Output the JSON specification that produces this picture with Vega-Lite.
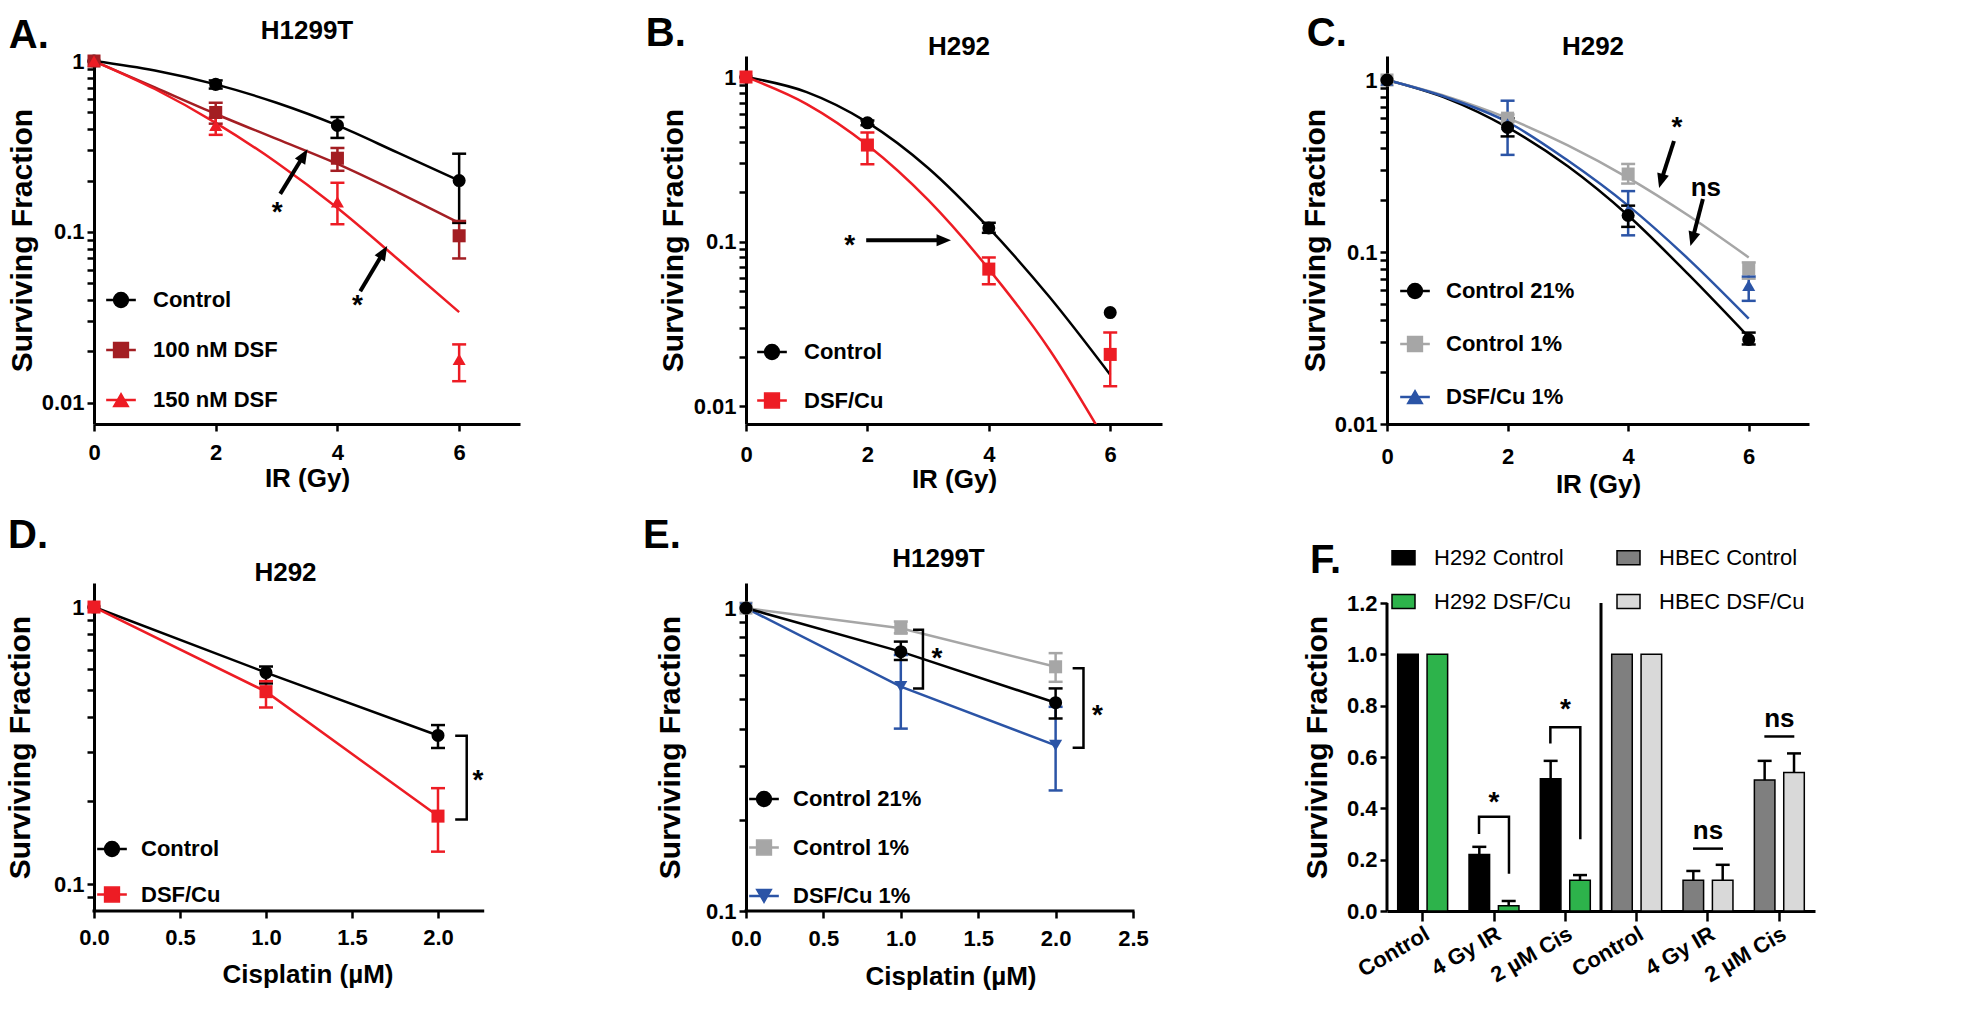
{
"$schema": "https://vega.github.io/schema/vega-lite/v6.json",
"background": "white",
"padding": {"left": 5, "top": 13, "right": 5, "bottom": 5},
"config": {
  "font": "Liberation Sans",
  "view": {"stroke": null},
  "axis": {"domainColor": "black", "domainWidth": 3, "tickColor": "black", "tickWidth": 2.5, "tickSize": 7, "labelColor": "black", "labelFont": "Liberation Sans", "labelFontSize": 22, "labelFontWeight": "bold", "labelPadding": 3, "labelFlush": false, "labelOverlap": false, "titleColor": "black", "titleFont": "Liberation Sans", "titleFontSize": 26, "titleFontWeight": "bold", "grid": false},
  "axisX": {"titleBaseline": "middle"},
  "axisY": {"titleFontSize": 30, "titleBaseline": "middle"},
  "title": {"font": "Liberation Sans", "fontSize": 26, "fontWeight": "bold", "color": "black", "anchor": "middle"}
},
"datasets": {
  "A_fit": [
    {"series":"Control","x":0,"sf":1},{"series":"Control","x":1,"sf":0.88},{"series":"Control","x":2,"sf":0.73},{"series":"Control","x":3,"sf":0.57},{"series":"Control","x":4,"sf":0.42},{"series":"Control","x":5,"sf":0.29},{"series":"Control","x":6,"sf":0.2},
    {"series":"100 nM DSF","x":0,"sf":1},{"series":"100 nM DSF","x":1,"sf":0.7},{"series":"100 nM DSF","x":2,"sf":0.49},{"series":"100 nM DSF","x":3,"sf":0.35},{"series":"100 nM DSF","x":4,"sf":0.25},{"series":"100 nM DSF","x":5,"sf":0.17},{"series":"100 nM DSF","x":6,"sf":0.113},
    {"series":"150 nM DSF","x":0,"sf":1},{"series":"150 nM DSF","x":1,"sf":0.686},{"series":"150 nM DSF","x":2,"sf":0.435},{"series":"150 nM DSF","x":3,"sf":0.255},{"series":"150 nM DSF","x":4,"sf":0.138},{"series":"150 nM DSF","x":5,"sf":0.069},{"series":"150 nM DSF","x":6,"sf":0.034}
  ],
  "A_pts": [
    {"series":"Control","x":0,"sf":1,"lo":1,"hi":1},{"series":"Control","x":2,"sf":0.73,"lo":0.69,"hi":0.77},{"series":"Control","x":4,"sf":0.42,"lo":0.355,"hi":0.47},{"series":"Control","x":6,"sf":0.2,"lo":0.113,"hi":0.287},
    {"series":"100 nM DSF","x":0,"sf":1,"lo":1,"hi":1},{"series":"100 nM DSF","x":2,"sf":0.5,"lo":0.43,"hi":0.57},{"series":"100 nM DSF","x":4,"sf":0.27,"lo":0.228,"hi":0.31},{"series":"100 nM DSF","x":6,"sf":0.095,"lo":0.07,"hi":0.116},
    {"series":"150 nM DSF","x":0,"sf":1,"lo":1,"hi":1},{"series":"150 nM DSF","x":2,"sf":0.42,"lo":0.37,"hi":0.47},{"series":"150 nM DSF","x":4,"sf":0.15,"lo":0.111,"hi":0.194},{"series":"150 nM DSF","x":6,"sf":0.018,"lo":0.0134,"hi":0.022}
  ],
  "A_arrows": [{"x0":3.06,"y0":0.167,"x1":3.44,"y1":0.278},{"x0":4.375,"y0":0.045,"x1":4.75,"y1":0.0754}],
  "A_stars": [{"x":3.01,"y":0.142},{"x":4.33,"y":0.0406}],
  "B_fit": [
    {"series":"Control","x":0,"sf":1},{"series":"Control","x":1,"sf":0.81},{"series":"Control","x":2,"sf":0.53},{"series":"Control","x":3,"sf":0.28},{"series":"Control","x":4,"sf":0.121},{"series":"Control","x":5,"sf":0.046},{"series":"Control","x":6,"sf":0.0155},
    {"series":"DSF/Cu","x":0,"sf":1},{"series":"DSF/Cu","x":1,"sf":0.685},{"series":"DSF/Cu","x":2,"sf":0.386},{"series":"DSF/Cu","x":3,"sf":0.179},{"series":"DSF/Cu","x":4,"sf":0.068},{"series":"DSF/Cu","x":5,"sf":0.022},{"series":"DSF/Cu","x":6,"sf":0.0055}
  ],
  "B_pts": [
    {"series":"Control","x":0,"sf":1,"lo":1,"hi":1},{"series":"Control","x":2,"sf":0.527,"lo":0.51,"hi":0.545},{"series":"Control","x":4,"sf":0.121,"lo":0.113,"hi":0.13},{"series":"Control","x":6,"sf":0.037,"lo":0.037,"hi":0.037},
    {"series":"DSF/Cu","x":0,"sf":1,"lo":1,"hi":1},{"series":"DSF/Cu","x":2,"sf":0.386,"lo":0.295,"hi":0.46},{"series":"DSF/Cu","x":4,"sf":0.068,"lo":0.055,"hi":0.08},{"series":"DSF/Cu","x":6,"sf":0.0206,"lo":0.0132,"hi":0.028}
  ],
  "B_arrows": [{"x0":1.98,"y0":0.102,"x1":3.245,"y1":0.102}],
  "B_stars": [{"x":1.71,"y":0.104}],
  "C_fit": [
    {"series":"Control 21%","x":0,"sf":1},{"series":"Control 21%","x":1,"sf":0.78},{"series":"Control 21%","x":2,"sf":0.53},{"series":"Control 21%","x":3,"sf":0.315},{"series":"Control 21%","x":4,"sf":0.163},{"series":"Control 21%","x":5,"sf":0.074},{"series":"Control 21%","x":6,"sf":0.032},
    {"series":"Control 1%","x":0,"sf":1},{"series":"Control 1%","x":1,"sf":0.8},{"series":"Control 1%","x":2,"sf":0.6},{"series":"Control 1%","x":3,"sf":0.417},{"series":"Control 1%","x":4,"sf":0.27},{"series":"Control 1%","x":5,"sf":0.163},{"series":"Control 1%","x":6,"sf":0.093},
    {"series":"DSF/Cu 1%","x":0,"sf":1},{"series":"DSF/Cu 1%","x":1,"sf":0.79},{"series":"DSF/Cu 1%","x":2,"sf":0.57},{"series":"DSF/Cu 1%","x":3,"sf":0.34},{"series":"DSF/Cu 1%","x":4,"sf":0.186},{"series":"DSF/Cu 1%","x":5,"sf":0.091},{"series":"DSF/Cu 1%","x":6,"sf":0.041}
  ],
  "C_pts": [
    {"series":"Control 1%","x":0,"sf":1,"lo":1,"hi":1},{"series":"Control 1%","x":2,"sf":0.6,"lo":0.57,"hi":0.63},{"series":"Control 1%","x":4,"sf":0.284,"lo":0.25,"hi":0.325},{"series":"Control 1%","x":6,"sf":0.08,"lo":0.07,"hi":0.087},
    {"series":"DSF/Cu 1%","x":0,"sf":1,"lo":1,"hi":1},{"series":"DSF/Cu 1%","x":2,"sf":0.555,"lo":0.367,"hi":0.758},{"series":"DSF/Cu 1%","x":4,"sf":0.175,"lo":0.125,"hi":0.226},{"series":"DSF/Cu 1%","x":6,"sf":0.064,"lo":0.052,"hi":0.072},
    {"series":"Control 21%","x":0,"sf":1,"lo":1,"hi":1},{"series":"Control 21%","x":2,"sf":0.53,"lo":0.47,"hi":0.6},{"series":"Control 21%","x":4,"sf":0.163,"lo":0.14,"hi":0.186},{"series":"Control 21%","x":6,"sf":0.031,"lo":0.029,"hi":0.034}
  ],
  "C_arrows": [{"x0":4.76,"y0":0.442,"x1":4.55,"y1":0.261},{"x0":5.24,"y0":0.203,"x1":5.07,"y1":0.12}],
  "C_stars": [{"x":4.81,"y":0.578}],
  "C_ns": [{"x":5.29,"y":0.235}],
  "D_pts": [
    {"series":"Control","x":0,"sf":1,"lo":1,"hi":1},{"series":"Control","x":1,"sf":0.58,"lo":0.53,"hi":0.61},{"series":"Control","x":2,"sf":0.344,"lo":0.31,"hi":0.375},
    {"series":"DSF/Cu","x":0,"sf":1,"lo":1,"hi":1},{"series":"DSF/Cu","x":1,"sf":0.495,"lo":0.434,"hi":0.54},{"series":"DSF/Cu","x":2,"sf":0.176,"lo":0.131,"hi":0.222}
  ],
  "D_bracket": [{"b":1,"k":1,"x":2.1,"y":0.343},{"b":1,"k":2,"x":2.167,"y":0.343},{"b":1,"k":3,"x":2.167,"y":0.171},{"b":1,"k":4,"x":2.1,"y":0.171}],
  "D_stars": [{"x":2.233,"y":0.249}],
  "E_pts": [
    {"series":"Control 1%","x":0,"sf":1,"lo":1,"hi":1},{"series":"Control 1%","x":1,"sf":0.858,"lo":0.826,"hi":0.903},{"series":"Control 1%","x":2,"sf":0.64,"lo":0.571,"hi":0.71},
    {"series":"DSF/Cu 1%","x":0,"sf":1,"lo":1,"hi":1},{"series":"DSF/Cu 1%","x":1,"sf":0.55,"lo":0.4,"hi":0.7},{"series":"DSF/Cu 1%","x":2,"sf":0.352,"lo":0.25,"hi":0.472},
    {"series":"Control 21%","x":0,"sf":1,"lo":1,"hi":1},{"series":"Control 21%","x":1,"sf":0.718,"lo":0.674,"hi":0.775},{"series":"Control 21%","x":2,"sf":0.487,"lo":0.432,"hi":0.543}
  ],
  "E_bracket": [
    {"b":1,"k":1,"x":1.079,"y":0.848},{"b":1,"k":2,"x":1.143,"y":0.848},{"b":1,"k":3,"x":1.143,"y":0.543},{"b":1,"k":4,"x":1.079,"y":0.543},
    {"b":2,"k":1,"x":2.11,"y":0.633},{"b":2,"k":2,"x":2.18,"y":0.633},{"b":2,"k":3,"x":2.18,"y":0.346},{"b":2,"k":4,"x":2.11,"y":0.346}
  ],
  "E_stars": [{"x":1.234,"y":0.718},{"x":2.27,"y":0.466}],
  "F_bars": [
    {"cond":"H292|Control","trt":"Control","series":"H292 Control","sf":1.0,"hi":1.0},
    {"cond":"H292|Control","trt":"DSF/Cu","series":"H292 DSF/Cu","sf":1.0,"hi":1.0},
    {"cond":"H292|4 Gy IR","trt":"Control","series":"H292 Control","sf":0.22,"hi":0.25},
    {"cond":"H292|4 Gy IR","trt":"DSF/Cu","series":"H292 DSF/Cu","sf":0.02,"hi":0.039},
    {"cond":"H292|2 µM Cis","trt":"Control","series":"H292 Control","sf":0.515,"hi":0.585},
    {"cond":"H292|2 µM Cis","trt":"DSF/Cu","series":"H292 DSF/Cu","sf":0.12,"hi":0.14},
    {"cond":"HBEC|Control","trt":"Control","series":"HBEC Control","sf":1.0,"hi":1.0},
    {"cond":"HBEC|Control","trt":"DSF/Cu","series":"HBEC DSF/Cu","sf":1.0,"hi":1.0},
    {"cond":"HBEC|4 Gy IR","trt":"Control","series":"HBEC Control","sf":0.12,"hi":0.156},
    {"cond":"HBEC|4 Gy IR","trt":"DSF/Cu","series":"HBEC DSF/Cu","sf":0.12,"hi":0.18},
    {"cond":"HBEC|2 µM Cis","trt":"Control","series":"HBEC Control","sf":0.51,"hi":0.585},
    {"cond":"HBEC|2 µM Cis","trt":"DSF/Cu","series":"HBEC DSF/Cu","sf":0.54,"hi":0.614}
  ],
  "F_brackets": [
    {"b":1,"k":1,"x":1.29,"y":0.3},{"b":1,"k":2,"x":1.29,"y":0.367},{"b":1,"k":3,"x":1.71,"y":0.367},{"b":1,"k":4,"x":1.71,"y":0.145},
    {"b":2,"k":1,"x":2.29,"y":0.653},{"b":2,"k":2,"x":2.29,"y":0.716},{"b":2,"k":3,"x":2.71,"y":0.716},{"b":2,"k":4,"x":2.71,"y":0.28}
  ],
  "F_nslines": [{"x0":4.29,"x1":4.71,"y":0.243},{"x0":5.29,"x1":5.71,"y":0.68}],
  "F_stars": [{"x":1.5,"y":0.45},{"x":2.5,"y":0.81}],
  "F_ns": [{"x":4.5,"y":0.31},{"x":5.5,"y":0.75}],
  "F_vlines": [{"x":0,"y0":0,"y1":1.2},{"x":3,"y0":0,"y1":1.2}]
},
"columns": 3,
"align": "none",
"bounds": "flush",
"spacing": {"row": 159, "column": 225},
"resolve": {"scale": {"color": "independent", "shape": "independent", "stroke": "independent"}, "legend": {"color": "independent", "shape": "independent", "stroke": "independent"}},
"concat": [
{
  "width": 426, "height": 368,
  "title": {"text": "H1299T", "offset": -28},
  "layer": [
    {"data": {"name": "A_fit"},
     "mark": {"type": "line", "strokeWidth": 2.5, "interpolate": "monotone", "clip": true},
     "encoding": {
       "x": {"field": "x", "type": "quantitative", "scale": {"domain": [0, 7], "nice": false, "zero": false}, "axis": {"title": "IR (Gy)", "values": [0, 2, 4, 6], "format": "d", "titleY": 54, "labelPadding": 11}},
       "y": {"field": "sf", "type": "quantitative", "scale": {"type": "log", "domain": [0.00753, 1.07], "nice": false}, "axis": {"title": "Surviving Fraction", "titleX": -72, "values": [0.01,0.02,0.03,0.04,0.05,0.06,0.07,0.08,0.09,0.1,0.2,0.3,0.4,0.5,0.6,0.7,0.8,0.9,1], "labelExpr": "datum.value == 1 ? '1' : datum.value == 0.1 ? '0.1' : datum.value == 0.01 ? '0.01' : ''"}},
       "stroke": {"field": "series", "type": "nominal", "sort": ["Control", "100 nM DSF", "150 nM DSF"], "scale": {"range": ["black", "#a31e23", "#ed1c24"]},
         "legend": {"orient": "none", "legendX": 16, "legendY": 233, "title": null, "padding": 0, "symbolType": "M-2,0H2", "symbolSize": 220, "symbolStrokeWidth": 2.5, "rowPadding": 28, "labelOffset": 21, "labelExpr": "' '", "labelFontSize": 22, "labelFontWeight": "bold"}}
     }},
    {"data": {"name": "A_pts"}, "transform": [{"filter": "datum.hi > datum.lo"}],
     "mark": {"type": "rule", "strokeWidth": 2.5},
     "encoding": {"x": {"field": "x", "type": "quantitative"}, "y": {"field": "lo", "type": "quantitative"}, "y2": {"field": "hi"}, "color": {"field": "series", "type": "nominal", "scale": {"domain": ["Control", "100 nM DSF", "150 nM DSF"], "range": ["black", "#a31e23", "#ed1c24"]}}}},
    {"data": {"name": "A_pts"}, "transform": [{"filter": "datum.hi > datum.lo"}],
     "mark": {"type": "tick", "orient": "horizontal", "size": 14, "thickness": 2.5, "opacity": 1},
     "encoding": {"x": {"field": "x", "type": "quantitative"}, "y": {"field": "lo", "type": "quantitative"}, "color": {"field": "series", "type": "nominal"}}},
    {"data": {"name": "A_pts"}, "transform": [{"filter": "datum.hi > datum.lo"}],
     "mark": {"type": "tick", "orient": "horizontal", "size": 14, "thickness": 2.5, "opacity": 1},
     "encoding": {"x": {"field": "x", "type": "quantitative"}, "y": {"field": "hi", "type": "quantitative"}, "color": {"field": "series", "type": "nominal"}}},
    {"data": {"name": "A_pts"},
     "mark": {"type": "point", "filled": true, "size": 170, "opacity": 1, "strokeWidth": 0},
     "encoding": {"x": {"field": "x", "type": "quantitative"}, "y": {"field": "sf", "type": "quantitative"},
       "shape": {"field": "series", "type": "nominal", "scale": {"domain": ["Control", "100 nM DSF", "150 nM DSF"], "range": ["circle", "square", "triangle-up"]}},
       "color": {"field": "series", "type": "nominal", "legend": {"orient": "none", "legendX": 16, "legendY": 233, "title": null, "padding": 0, "symbolSize": 220, "rowPadding": 28, "labelOffset": 21, "labelFontSize": 22, "labelFontWeight": "bold", "labelColor": "black", "labelFont": "Liberation Sans", "symbolOpacity": 1}}}},
    {"data": {"name": "A_arrows"}, "mark": {"type": "rule", "color": "black", "strokeWidth": 4},
     "encoding": {"x": {"field": "x0", "type": "quantitative"}, "y": {"field": "y0", "type": "quantitative"}, "x2": {"field": "x1"}, "y2": {"field": "y1"}}},
    {"data": {"name": "A_arrows"}, "mark": {"type": "point", "shape": "M0,-1L0.75,0.8L-0.75,0.8Z", "filled": true, "color": "black", "opacity": 1, "size": 256, "angle": 31, "strokeWidth": 0},
     "encoding": {"x": {"field": "x1", "type": "quantitative"}, "y": {"field": "y1", "type": "quantitative"}}},
    {"data": {"name": "A_stars"}, "mark": {"type": "text", "text": "*", "fontSize": 28, "fontWeight": "bold", "baseline": "middle", "dy": 7, "color": "black"},
     "encoding": {"x": {"field": "x", "type": "quantitative"}, "y": {"field": "y", "type": "quantitative"}}},
    {"data": {"values": [{"label": "A."}]}, "mark": {"type": "text", "fontSize": 40, "fontWeight": "bold", "align": "left", "baseline": "alphabetic", "color": "black"},
     "encoding": {"x": {"datum": -1.4, "type": "quantitative"}, "y": {"datum": 1.19, "type": "quantitative"}, "text": {"field": "label"}}}
  ]
},
{
  "width": 416, "height": 368,
  "title": {"text": "H292", "offset": -46, "dx": 5},
  "layer": [
    {"data": {"name": "B_fit"},
     "mark": {"type": "line", "strokeWidth": 2.5, "interpolate": "monotone", "clip": true},
     "encoding": {
       "x": {"field": "x", "type": "quantitative", "scale": {"domain": [0, 6.853], "nice": false, "zero": false}, "axis": {"title": "IR (Gy)", "values": [0, 2, 4, 6], "format": "d", "titleY": 55, "labelPadding": 13}},
       "y": {"field": "sf", "type": "quantitative", "scale": {"type": "log", "domain": [0.00778, 1.342], "nice": false}, "axis": {"title": "Surviving Fraction", "titleX": -73, "values": [0.01,0.02,0.03,0.04,0.05,0.06,0.07,0.08,0.09,0.1,0.2,0.3,0.4,0.5,0.6,0.7,0.8,0.9,1], "labelExpr": "datum.value == 1 ? '1' : datum.value == 0.1 ? '0.1' : datum.value == 0.01 ? '0.01' : ''"}},
       "stroke": {"field": "series", "type": "nominal", "sort": ["Control", "DSF/Cu"], "scale": {"range": ["black", "#ed1c24"]},
         "legend": {"orient": "none", "legendX": 15, "legendY": 285, "title": null, "padding": 0, "symbolType": "M-2,0H2", "symbolSize": 220, "symbolStrokeWidth": 2.5, "rowPadding": 26.5, "labelOffset": 21, "labelExpr": "' '", "labelFontSize": 22, "labelFontWeight": "bold"}}
     }},
    {"data": {"name": "B_pts"}, "transform": [{"filter": "datum.hi > datum.lo"}],
     "mark": {"type": "rule", "strokeWidth": 2.5},
     "encoding": {"x": {"field": "x", "type": "quantitative"}, "y": {"field": "lo", "type": "quantitative"}, "y2": {"field": "hi"}, "color": {"field": "series", "type": "nominal", "scale": {"domain": ["Control", "DSF/Cu"], "range": ["black", "#ed1c24"]}}}},
    {"data": {"name": "B_pts"}, "transform": [{"filter": "datum.hi > datum.lo"}],
     "mark": {"type": "tick", "orient": "horizontal", "size": 14, "thickness": 2.5, "opacity": 1},
     "encoding": {"x": {"field": "x", "type": "quantitative"}, "y": {"field": "lo", "type": "quantitative"}, "color": {"field": "series", "type": "nominal"}}},
    {"data": {"name": "B_pts"}, "transform": [{"filter": "datum.hi > datum.lo"}],
     "mark": {"type": "tick", "orient": "horizontal", "size": 14, "thickness": 2.5, "opacity": 1},
     "encoding": {"x": {"field": "x", "type": "quantitative"}, "y": {"field": "hi", "type": "quantitative"}, "color": {"field": "series", "type": "nominal"}}},
    {"data": {"name": "B_pts"},
     "mark": {"type": "point", "filled": true, "size": 170, "opacity": 1, "strokeWidth": 0},
     "encoding": {"x": {"field": "x", "type": "quantitative"}, "y": {"field": "sf", "type": "quantitative"},
       "shape": {"field": "series", "type": "nominal", "scale": {"domain": ["Control", "DSF/Cu"], "range": ["circle", "square"]}},
       "color": {"field": "series", "type": "nominal", "legend": {"orient": "none", "legendX": 15, "legendY": 285, "title": null, "padding": 0, "symbolSize": 220, "rowPadding": 26.5, "labelOffset": 21, "labelFontSize": 22, "labelFontWeight": "bold", "labelColor": "black", "labelFont": "Liberation Sans", "symbolOpacity": 1}}}},
    {"data": {"name": "B_arrows"}, "mark": {"type": "rule", "color": "black", "strokeWidth": 4},
     "encoding": {"x": {"field": "x0", "type": "quantitative"}, "y": {"field": "y0", "type": "quantitative"}, "x2": {"field": "x1"}, "y2": {"field": "y1"}}},
    {"data": {"name": "B_arrows"}, "mark": {"type": "point", "shape": "M0,-1L0.75,0.8L-0.75,0.8Z", "filled": true, "color": "black", "opacity": 1, "size": 256, "angle": 90, "strokeWidth": 0},
     "encoding": {"x": {"field": "x1", "type": "quantitative"}, "y": {"field": "y1", "type": "quantitative"}}},
    {"data": {"name": "B_stars"}, "mark": {"type": "text", "text": "*", "fontSize": 28, "fontWeight": "bold", "baseline": "middle", "dy": 7, "color": "black"},
     "encoding": {"x": {"field": "x", "type": "quantitative"}, "y": {"field": "y", "type": "quantitative"}}},
    {"data": {"values": [{"label": "B."}]}, "mark": {"type": "text", "fontSize": 40, "fontWeight": "bold", "align": "left", "baseline": "alphabetic", "color": "black"},
     "encoding": {"x": {"datum": -1.65, "type": "quantitative"}, "y": {"datum": 1.54, "type": "quantitative"}, "text": {"field": "label"}}}
  ]
},
{
  "width": 422, "height": 368,
  "title": {"text": "H292", "offset": -46, "dx": -5},
  "layer": [
    {"data": {"name": "C_fit"},
     "mark": {"type": "line", "strokeWidth": 2.5, "interpolate": "monotone", "clip": true},
     "encoding": {
       "x": {"field": "x", "type": "quantitative", "scale": {"domain": [0, 7], "nice": false, "zero": false}, "axis": {"title": "IR (Gy)", "values": [0, 2, 4, 6], "format": "d", "titleY": 60, "labelPadding": 15}},
       "y": {"field": "sf", "type": "quantitative", "scale": {"type": "log", "domain": [0.01, 1.379], "nice": false}, "axis": {"title": "Surviving Fraction", "titleX": -72, "values": [0.01,0.02,0.03,0.04,0.05,0.06,0.07,0.08,0.09,0.1,0.2,0.3,0.4,0.5,0.6,0.7,0.8,0.9,1], "labelExpr": "datum.value == 1 ? '1' : datum.value == 0.1 ? '0.1' : datum.value == 0.01 ? '0.01' : ''"}},
       "stroke": {"field": "series", "type": "nominal", "sort": ["Control 21%", "Control 1%", "DSF/Cu 1%"], "scale": {"range": ["black", "#a6a6a6", "#2b54a6"]},
         "legend": {"orient": "none", "legendX": 17, "legendY": 224, "title": null, "padding": 0, "symbolType": "M-2,0H2", "symbolSize": 220, "symbolStrokeWidth": 2.5, "rowPadding": 31, "labelOffset": 20, "labelExpr": "' '", "labelFontSize": 22, "labelFontWeight": "bold"}}
     }},
    {"data": {"name": "C_pts"}, "transform": [{"filter": "datum.hi > datum.lo"}],
     "mark": {"type": "rule", "strokeWidth": 2.5},
     "encoding": {"x": {"field": "x", "type": "quantitative"}, "y": {"field": "lo", "type": "quantitative"}, "y2": {"field": "hi"}, "color": {"field": "series", "type": "nominal", "scale": {"domain": ["Control 21%", "Control 1%", "DSF/Cu 1%"], "range": ["black", "#a6a6a6", "#2b54a6"]}}}},
    {"data": {"name": "C_pts"}, "transform": [{"filter": "datum.hi > datum.lo"}],
     "mark": {"type": "tick", "orient": "horizontal", "size": 14, "thickness": 2.5, "opacity": 1},
     "encoding": {"x": {"field": "x", "type": "quantitative"}, "y": {"field": "lo", "type": "quantitative"}, "color": {"field": "series", "type": "nominal"}}},
    {"data": {"name": "C_pts"}, "transform": [{"filter": "datum.hi > datum.lo"}],
     "mark": {"type": "tick", "orient": "horizontal", "size": 14, "thickness": 2.5, "opacity": 1},
     "encoding": {"x": {"field": "x", "type": "quantitative"}, "y": {"field": "hi", "type": "quantitative"}, "color": {"field": "series", "type": "nominal"}}},
    {"data": {"name": "C_pts"},
     "mark": {"type": "point", "filled": true, "size": 170, "opacity": 1, "strokeWidth": 0},
     "encoding": {"x": {"field": "x", "type": "quantitative"}, "y": {"field": "sf", "type": "quantitative"},
       "shape": {"field": "series", "type": "nominal", "scale": {"domain": ["Control 21%", "Control 1%", "DSF/Cu 1%"], "range": ["circle", "square", "triangle-up"]}},
       "color": {"field": "series", "type": "nominal", "legend": {"orient": "none", "legendX": 17, "legendY": 224, "title": null, "padding": 0, "symbolSize": 220, "rowPadding": 31, "labelOffset": 20, "labelFontSize": 22, "labelFontWeight": "bold", "labelColor": "black", "labelFont": "Liberation Sans", "symbolOpacity": 1}}}},
    {"data": {"name": "C_arrows"}, "mark": {"type": "rule", "color": "black", "strokeWidth": 4},
     "encoding": {"x": {"field": "x0", "type": "quantitative"}, "y": {"field": "y0", "type": "quantitative"}, "x2": {"field": "x1"}, "y2": {"field": "y1"}}},
    {"data": {"name": "C_arrows"}, "mark": {"type": "point", "shape": "M0,-1L0.75,0.8L-0.75,0.8Z", "filled": true, "color": "black", "opacity": 1, "size": 256, "angle": 196, "strokeWidth": 0},
     "encoding": {"x": {"field": "x1", "type": "quantitative"}, "y": {"field": "y1", "type": "quantitative"}}},
    {"data": {"name": "C_stars"}, "mark": {"type": "text", "text": "*", "fontSize": 28, "fontWeight": "bold", "baseline": "middle", "dy": 7, "color": "black"},
     "encoding": {"x": {"field": "x", "type": "quantitative"}, "y": {"field": "y", "type": "quantitative"}}},
    {"data": {"name": "C_ns"}, "mark": {"type": "text", "text": "ns", "fontSize": 26, "fontWeight": "bold", "baseline": "middle", "color": "black"},
     "encoding": {"x": {"field": "x", "type": "quantitative"}, "y": {"field": "y", "type": "quantitative"}}},
    {"data": {"values": [{"label": "C."}]}, "mark": {"type": "text", "fontSize": 40, "fontWeight": "bold", "align": "left", "baseline": "alphabetic", "color": "black"},
     "encoding": {"x": {"datum": -1.33, "type": "quantitative"}, "y": {"datum": 1.58, "type": "quantitative"}, "text": {"field": "label"}}}
  ]
},
{
  "width": 427, "height": 328,
  "title": {"text": "H292", "offset": -70, "dx": -22},
  "layer": [
    {"data": {"name": "D_pts"},
     "mark": {"type": "line", "strokeWidth": 2.5},
     "encoding": {
       "x": {"field": "x", "type": "quantitative", "scale": {"domain": [0, 2.4826], "nice": false, "zero": false}, "axis": {"title": "Cisplatin (µM)", "values": [0, 0.5, 1, 1.5, 2], "format": ".1f", "domain": false, "titleY": 63, "labelPadding": 9}},
       "y": {"field": "sf", "type": "quantitative", "scale": {"type": "log", "domain": [0.08, 1.221], "nice": false}, "axis": {"title": "Surviving Fraction", "titleX": -74, "values": [0.09,0.1,0.2,0.3,0.4,0.5,0.6,0.7,0.8,0.9,1], "labelExpr": "datum.value == 1 ? '1' : datum.value == 0.1 ? '0.1' : ''"}},
       "stroke": {"field": "series", "type": "nominal", "sort": ["Control", "DSF/Cu"], "scale": {"range": ["black", "#ed1c24"]},
         "legend": {"orient": "none", "legendX": 7, "legendY": 255, "title": null, "padding": 0, "symbolType": "M-2,0H2", "symbolSize": 220, "symbolStrokeWidth": 2.5, "rowPadding": 23.5, "labelOffset": 18, "labelExpr": "' '", "labelFontSize": 22, "labelFontWeight": "bold"}}
     }},
    {"data": {"values": [{}]}, "mark": {"type": "rule", "color": "black", "strokeWidth": 3, "strokeCap": "square"},
     "encoding": {"x": {"datum": 0, "type": "quantitative"}, "x2": {"datum": 2.26}, "y": {"datum": 0.08, "type": "quantitative"}}},
    {"data": {"name": "D_pts"}, "transform": [{"filter": "datum.hi > datum.lo"}],
     "mark": {"type": "rule", "strokeWidth": 2.5},
     "encoding": {"x": {"field": "x", "type": "quantitative"}, "y": {"field": "lo", "type": "quantitative"}, "y2": {"field": "hi"}, "color": {"field": "series", "type": "nominal", "scale": {"domain": ["Control", "DSF/Cu"], "range": ["black", "#ed1c24"]}}}},
    {"data": {"name": "D_pts"}, "transform": [{"filter": "datum.hi > datum.lo"}],
     "mark": {"type": "tick", "orient": "horizontal", "size": 14, "thickness": 2.5, "opacity": 1},
     "encoding": {"x": {"field": "x", "type": "quantitative"}, "y": {"field": "lo", "type": "quantitative"}, "color": {"field": "series", "type": "nominal"}}},
    {"data": {"name": "D_pts"}, "transform": [{"filter": "datum.hi > datum.lo"}],
     "mark": {"type": "tick", "orient": "horizontal", "size": 14, "thickness": 2.5, "opacity": 1},
     "encoding": {"x": {"field": "x", "type": "quantitative"}, "y": {"field": "hi", "type": "quantitative"}, "color": {"field": "series", "type": "nominal"}}},
    {"data": {"name": "D_pts"},
     "mark": {"type": "point", "filled": true, "size": 170, "opacity": 1, "strokeWidth": 0},
     "encoding": {"x": {"field": "x", "type": "quantitative"}, "y": {"field": "sf", "type": "quantitative"},
       "shape": {"field": "series", "type": "nominal", "scale": {"domain": ["Control", "DSF/Cu"], "range": ["circle", "square"]}},
       "color": {"field": "series", "type": "nominal", "legend": {"orient": "none", "legendX": 7, "legendY": 255, "title": null, "padding": 0, "symbolSize": 220, "rowPadding": 23.5, "labelOffset": 18, "labelFontSize": 22, "labelFontWeight": "bold", "labelColor": "black", "labelFont": "Liberation Sans", "symbolOpacity": 1}}}},
    {"data": {"name": "D_bracket"}, "mark": {"type": "line", "color": "black", "strokeWidth": 2.5},
     "encoding": {"x": {"field": "x", "type": "quantitative"}, "y": {"field": "y", "type": "quantitative"}, "detail": {"field": "b"}, "order": {"field": "k", "type": "quantitative"}}},
    {"data": {"name": "D_stars"}, "mark": {"type": "text", "text": "*", "fontSize": 28, "fontWeight": "bold", "baseline": "middle", "dy": 7, "color": "black"},
     "encoding": {"x": {"field": "x", "type": "quantitative"}, "y": {"field": "y", "type": "quantitative"}}},
    {"data": {"values": [{"label": "D."}]}, "mark": {"type": "text", "fontSize": 40, "fontWeight": "bold", "align": "left", "baseline": "alphabetic", "color": "black"},
     "encoding": {"x": {"datum": -0.5, "type": "quantitative"}, "y": {"datum": 1.63, "type": "quantitative"}, "text": {"field": "label"}}}
  ]
},
{
  "width": 409, "height": 328,
  "title": {"text": "H1299T", "offset": -56, "dx": -12},
  "layer": [
    {"data": {"name": "E_pts"},
     "mark": {"type": "line", "strokeWidth": 2.5},
     "encoding": {
       "x": {"field": "x", "type": "quantitative", "scale": {"domain": [0, 2.642], "nice": false, "zero": false}, "axis": {"title": "Cisplatin (µM)", "values": [0, 0.5, 1, 1.5, 2, 2.5], "format": ".1f", "domain": false, "titleY": 65, "labelPadding": 10}},
       "y": {"field": "sf", "type": "quantitative", "scale": {"type": "log", "domain": [0.1, 1.21], "nice": false}, "axis": {"title": "Surviving Fraction", "titleX": -76, "values": [0.1,0.2,0.3,0.4,0.5,0.6,0.7,0.8,0.9,1], "labelExpr": "datum.value == 1 ? '1' : datum.value == 0.1 ? '0.1' : ''"}},
       "stroke": {"field": "series", "type": "nominal", "sort": ["Control 21%", "Control 1%", "DSF/Cu 1%"], "scale": {"range": ["black", "#a6a6a6", "#2b54a6"]},
         "legend": {"orient": "none", "legendX": 7, "legendY": 205, "title": null, "padding": 0, "symbolType": "M-2,0H2", "symbolSize": 220, "symbolStrokeWidth": 2.5, "rowPadding": 26.5, "labelOffset": 18, "labelExpr": "' '", "labelFontSize": 22, "labelFontWeight": "bold"}}
     }},
    {"data": {"values": [{}]}, "mark": {"type": "rule", "color": "black", "strokeWidth": 3, "strokeCap": "square"},
     "encoding": {"x": {"datum": 0, "type": "quantitative"}, "x2": {"datum": 2.5}, "y": {"datum": 0.1, "type": "quantitative"}}},
    {"data": {"name": "E_pts"}, "transform": [{"filter": "datum.hi > datum.lo"}],
     "mark": {"type": "rule", "strokeWidth": 2.5},
     "encoding": {"x": {"field": "x", "type": "quantitative"}, "y": {"field": "lo", "type": "quantitative"}, "y2": {"field": "hi"}, "color": {"field": "series", "type": "nominal", "scale": {"domain": ["Control 21%", "Control 1%", "DSF/Cu 1%"], "range": ["black", "#a6a6a6", "#2b54a6"]}}}},
    {"data": {"name": "E_pts"}, "transform": [{"filter": "datum.hi > datum.lo"}],
     "mark": {"type": "tick", "orient": "horizontal", "size": 14, "thickness": 2.5, "opacity": 1},
     "encoding": {"x": {"field": "x", "type": "quantitative"}, "y": {"field": "lo", "type": "quantitative"}, "color": {"field": "series", "type": "nominal"}}},
    {"data": {"name": "E_pts"}, "transform": [{"filter": "datum.hi > datum.lo"}],
     "mark": {"type": "tick", "orient": "horizontal", "size": 14, "thickness": 2.5, "opacity": 1},
     "encoding": {"x": {"field": "x", "type": "quantitative"}, "y": {"field": "hi", "type": "quantitative"}, "color": {"field": "series", "type": "nominal"}}},
    {"data": {"name": "E_pts"},
     "mark": {"type": "point", "filled": true, "size": 170, "opacity": 1, "strokeWidth": 0},
     "encoding": {"x": {"field": "x", "type": "quantitative"}, "y": {"field": "sf", "type": "quantitative"},
       "shape": {"field": "series", "type": "nominal", "scale": {"domain": ["Control 21%", "Control 1%", "DSF/Cu 1%"], "range": ["circle", "square", "triangle-down"]}},
       "color": {"field": "series", "type": "nominal", "legend": {"orient": "none", "legendX": 7, "legendY": 205, "title": null, "padding": 0, "symbolSize": 220, "rowPadding": 26.5, "labelOffset": 18, "labelFontSize": 22, "labelFontWeight": "bold", "labelColor": "black", "labelFont": "Liberation Sans", "symbolOpacity": 1}}}},
    {"data": {"name": "E_bracket"}, "mark": {"type": "line", "color": "black", "strokeWidth": 2.5},
     "encoding": {"x": {"field": "x", "type": "quantitative"}, "y": {"field": "y", "type": "quantitative"}, "detail": {"field": "b"}, "order": {"field": "k", "type": "quantitative"}}},
    {"data": {"name": "E_stars"}, "mark": {"type": "text", "text": "*", "fontSize": 28, "fontWeight": "bold", "baseline": "middle", "dy": 7, "color": "black"},
     "encoding": {"x": {"field": "x", "type": "quantitative"}, "y": {"field": "y", "type": "quantitative"}}},
    {"data": {"values": [{"label": "E."}]}, "mark": {"type": "text", "fontSize": 40, "fontWeight": "bold", "align": "left", "baseline": "alphabetic", "color": "black"},
     "encoding": {"x": {"datum": -0.665, "type": "quantitative"}, "y": {"datum": 1.58, "type": "quantitative"}, "text": {"field": "label"}}}
  ]
},
{
  "width": 428, "height": 328,
  "layer": [
    {
      "layer": [
        {"data": {"name": "F_bars"},
         "mark": {"type": "bar", "stroke": "black", "strokeWidth": 1.5},
         "encoding": {
           "x": {"field": "cond", "type": "nominal", "sort": ["H292|Control", "H292|4 Gy IR", "H292|2 µM Cis", "HBEC|Control", "HBEC|4 Gy IR", "HBEC|2 µM Cis"], "scale": {"paddingInner": 0.3, "paddingOuter": 0.15}, "axis": {"title": null, "labelExpr": "split(datum.label, '|')[1]", "labelAngle": -30, "labelAlign": "right", "labelBaseline": "top", "labelPadding": 2, "tickSize": 10}},
           "xOffset": {"field": "trt", "type": "nominal", "sort": ["Control", "DSF/Cu"], "scale": {"paddingInner": 0.3, "paddingOuter": 0}},
           "y": {"field": "sf", "type": "quantitative", "scale": {"domain": [0, 1.278], "nice": false}, "axis": {"title": "Surviving Fraction", "titleX": -70, "values": [0, 0.2, 0.4, 0.6, 0.8, 1, 1.2], "format": ".1f", "domain": false}},
           "color": {"field": "series", "type": "nominal", "scale": {"domain": ["H292 Control", "H292 DSF/Cu", "HBEC Control", "HBEC DSF/Cu"], "range": ["black", "#2db34b", "#7f7f7f", "#d9d9d9"]},
             "legend": {"orient": "none", "legendX": 4, "legendY": -38, "title": null, "padding": 0, "columns": 2, "columnPadding": 43, "rowPadding": 20, "symbolType": "M-1,-0.6H1V0.6H-1Z", "symbolSize": 529, "symbolStrokeColor": "black", "symbolStrokeWidth": 1.5, "labelOffset": 18, "labelFontSize": 22, "labelFontWeight": "normal", "labelColor": "black", "labelFont": "Liberation Sans"}}
         }},
        {"data": {"name": "F_bars"}, "transform": [{"filter": "datum.hi > datum.sf"}],
         "mark": {"type": "rule", "color": "black", "strokeWidth": 2.5},
         "encoding": {
           "x": {"field": "cond", "type": "nominal", "sort": ["H292|Control", "H292|4 Gy IR", "H292|2 µM Cis", "HBEC|Control", "HBEC|4 Gy IR", "HBEC|2 µM Cis"]},
           "xOffset": {"field": "trt", "type": "nominal", "sort": ["Control", "DSF/Cu"]},
           "y": {"field": "sf", "type": "quantitative"}, "y2": {"field": "hi"}}},
        {"data": {"name": "F_bars"}, "transform": [{"filter": "datum.hi > datum.sf"}],
         "mark": {"type": "tick", "orient": "horizontal", "color": "black", "size": 14, "thickness": 2.5, "opacity": 1},
         "encoding": {
           "x": {"field": "cond", "type": "nominal", "sort": ["H292|Control", "H292|4 Gy IR", "H292|2 µM Cis", "HBEC|Control", "HBEC|4 Gy IR", "HBEC|2 µM Cis"]},
           "xOffset": {"field": "trt", "type": "nominal", "sort": ["Control", "DSF/Cu"]},
           "y": {"field": "hi", "type": "quantitative"}}}
      ]
    },
    {
      "layer": [
        {"data": {"name": "F_vlines"}, "mark": {"type": "rule", "color": "black", "strokeWidth": 3},
         "encoding": {"x": {"field": "x", "type": "quantitative", "scale": {"domain": [0, 6], "nice": false, "zero": false}, "axis": null}, "y": {"field": "y0", "type": "quantitative"}, "y2": {"field": "y1"}}},
        {"data": {"name": "F_brackets"}, "mark": {"type": "line", "color": "black", "strokeWidth": 2.5},
         "encoding": {"x": {"field": "x", "type": "quantitative"}, "y": {"field": "y", "type": "quantitative"}, "detail": {"field": "b"}, "order": {"field": "k", "type": "quantitative"}}},
        {"data": {"name": "F_nslines"}, "mark": {"type": "rule", "color": "black", "strokeWidth": 2.5},
         "encoding": {"x": {"field": "x0", "type": "quantitative"}, "x2": {"field": "x1"}, "y": {"field": "y", "type": "quantitative"}}},
        {"data": {"name": "F_stars"}, "mark": {"type": "text", "text": "*", "fontSize": 28, "fontWeight": "bold", "baseline": "middle", "dy": 7, "color": "black"},
         "encoding": {"x": {"field": "x", "type": "quantitative"}, "y": {"field": "y", "type": "quantitative"}}},
        {"data": {"name": "F_ns"}, "mark": {"type": "text", "text": "ns", "fontSize": 26, "fontWeight": "bold", "baseline": "middle", "color": "black"},
         "encoding": {"x": {"field": "x", "type": "quantitative"}, "y": {"field": "y", "type": "quantitative"}}},
        {"data": {"values": [{"label": "F."}]}, "mark": {"type": "text", "fontSize": 40, "fontWeight": "bold", "align": "left", "baseline": "alphabetic", "color": "black"},
         "encoding": {"x": {"datum": -1.08, "type": "quantitative"}, "y": {"datum": 1.317, "type": "quantitative"}, "text": {"field": "label"}}}
      ]
    }
  ],
  "resolve": {"scale": {"x": "independent"}}
}
]
}
